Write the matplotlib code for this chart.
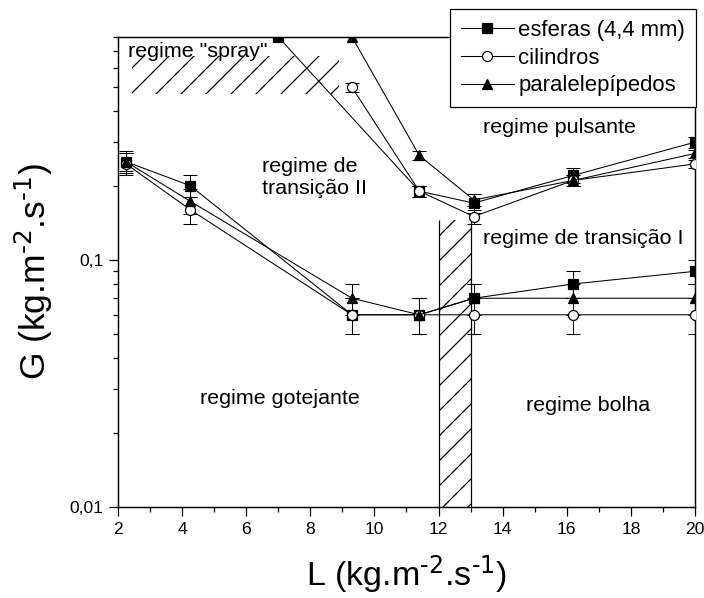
import matplotlib
matplotlib.use('Agg')
import matplotlib.pyplot as plt
import numpy as np
from matplotlib.ticker import LogLocator, NullFormatter, MultipleLocator

plt.rcParams['font.family'] = ['Liberation Sans', 'DejaVu Sans']
plt.rcParams['mathtext.default'] = 'regular'
plt.rcParams['hatch.linewidth'] = 0.6

# L values (kg.m-2.s-1) of the measuring points
L = [2.25, 4.25, 9.3, 11.4, 13.1, 16.2, 20]

# lower boundary (trickle / bubble)
G_esf_low = [0.25, 0.2, 0.06, 0.06, 0.07, 0.08, 0.09]
E_esf_low = [0.025, 0.02, 0.01, 0.01, 0.01, 0.01, 0.01]
G_cil_low = [0.245, 0.16, 0.06, 0.06, 0.06, 0.06, 0.06]
E_cil_low = [0.025, 0.02, 0.01, 0.01, 0.01, 0.01, 0.01]
G_par_low = [0.25, 0.173, 0.07, 0.06, 0.07, 0.07, 0.07]
E_par_low = [0.02, 0.02, 0.01, 0.01, 0.01, 0.01, 0.01]

# upper boundary (spray / pulsing)
L_esf_up = [7, 11.4, 13.1, 16.2, 20]
G_esf_up = [0.8, 0.19, 0.17, 0.22, 0.3]
E_esf_up = [0.0, 0.01, 0.015, 0.015, 0.015]
L_up = [9.3, 11.4, 13.1, 16.2, 20]
G_cil_up = [0.5, 0.19, 0.15, 0.21, 0.245]
E_cil_up = [0.02, 0.01, 0.01, 0.01, 0.01]
G_par_up = [0.8, 0.265, 0.175, 0.21, 0.27]
E_par_up = [0.0, 0.01, 0.01, 0.01, 0.01]

# hatched regions
spray_L = [2.43, 8.9]
spray_G = [0.47, 0.667]
band_L = [12, 13]
band_G = [0.01, 0.145]

dpi = 150
fig = plt.figure(figsize=(704 / dpi, 598 / dpi), dpi=dpi)
ax = fig.add_axes([0.1676, 0.1522, 0.8196, 0.786])

series = [
    ('esferas (4,4 mm)', 's', 'black', (L, G_esf_low, E_esf_low), (L_esf_up, G_esf_up, E_esf_up)),
    ('cilindros', 'o', 'white', (L, G_cil_low, E_cil_low), (L_up, G_cil_up, E_cil_up)),
    ('paralelepípedos', '^', 'black', (L, G_par_low, E_par_low), (L_up, G_par_up, E_par_up)),
]

for name, mk, fc, low, up in series:
    for i, (x, y, e) in enumerate([low, up]):
        ax.errorbar(x, y, yerr=e, fmt='none', ecolor='black', elinewidth=0.5,
                    capsize=3.2, capthick=0.5, zorder=2)
        ax.plot(x, y, color='black', lw=0.5, marker=mk, ms=4.8, mfc=fc,
                mec='black', mew=0.6, label=name if i == 0 else None, zorder=3)

# hatched transition areas
ax.fill_between(spray_L, spray_G[0], spray_G[1], facecolor='none',
                edgecolor='black', hatch='//', lw=0)
ax.fill_between(band_L, band_G[0], band_G[1], facecolor='none',
                edgecolor='black', hatch='//', lw=0)
ax.vlines(band_L, band_G[0], band_G[1], color='black', lw=0.6)

fs = 10.3
ax.text(2.31, 0.70, 'regime "spray"', fontsize=fs, ha='left', va='center')
ax.text(13.39, 0.343, 'regime pulsante', fontsize=fs, ha='left', va='center')
ax.text(6.49, 0.216, 'regime de\ntransição II', fontsize=fs, ha='left', va='center',
        linespacing=1.25)
ax.text(13.39, 0.122, 'regime de transição I', fontsize=fs, ha='left', va='center')
ax.text(4.56, 0.0275, 'regime gotejante', fontsize=fs, ha='left', va='center')
ax.text(14.73, 0.0258, 'regime bolha', fontsize=fs, ha='left', va='center')

ax.set_yscale('log')
ax.set_xlim(2, 20)
ax.set_ylim(0.01, 0.8)
ax.set_xticks(range(2, 21, 2))
ax.xaxis.set_minor_locator(MultipleLocator(1))
ax.set_yticks([0.01, 0.1], ['0,01', '0,1'])
ax.yaxis.set_minor_locator(LogLocator(base=10, subs=np.arange(2, 10)))
ax.yaxis.set_minor_formatter(NullFormatter())
ax.tick_params(which='major', direction='out', length=4.5, width=0.6,
               labelsize=8.4, pad=2.5, top=False, right=False)
ax.tick_params(which='minor', direction='out', length=2.5, width=0.6,
               top=False, right=False)
for sp in ax.spines.values():
    sp.set_linewidth(0.7)

ax.set_xlabel('L (kg.m$^{\\text{-2}}$.s$^{\\text{-1}}$)', fontsize=16.3, labelpad=8.5)
ax.set_ylabel('G (kg.m$^{\\text{-2}}$.s$^{\\text{-1}}$)', fontsize=17, labelpad=7)

leg = ax.legend(loc='upper right', bbox_to_anchor=(696 / 704, 1 - 9 / 598),
                bbox_transform=fig.transFigure, fontsize=10.6, frameon=True,
                fancybox=False, edgecolor='black', framealpha=1,
                handlelength=2.4, handletextpad=0.2, labelspacing=0.3,
                borderpad=0.5, borderaxespad=0)
leg.get_frame().set_linewidth(0.6)

fig.savefig('out.png', dpi=dpi)
